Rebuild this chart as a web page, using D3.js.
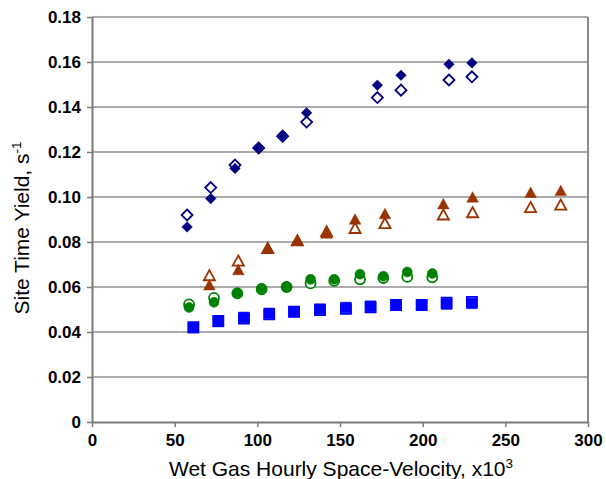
<!DOCTYPE html>
<html>
<head>
<meta charset="utf-8">
<script src="https://cdn.jsdelivr.net/npm/d3@7"></script>
<style>
  html, body { margin: 0; padding: 0; background: #fff; }
  svg { display: block; font-family: Arial, "Liberation Sans", sans-serif; }
</style>
</head>
<body>
<svg id="chart" width="606" height="479"></svg>
<script>
// Wet gas hourly space-velocity (x10^3) for each run
const xDiamond = [57.5, 71.8, 86.5, 100.8, 115.3, 129.8, 172.6, 186.9, 215.9, 229.8];
const yDiamondFilled = [0.0867, 0.0993, 0.1127, 0.1216, 0.1275, 0.1374, 0.1497, 0.1541, 0.1590, 0.1596];
const yDiamondOpen   = [0.0920, 0.1042, 0.1142, 0.1218, 0.1270, 0.1333, 0.1442, 0.1475, 0.1520, 0.1534];

const xTriangle = [71.0, 88.5, 106.3, 124.2, 141.9, 159.1, 177.2, 212.5, 230.2, 265.3, 283.5];
const yTriangleFilled = [0.0608, 0.0675, 0.0771, 0.0807, 0.0838, 0.0900, 0.0924, 0.0968, 0.0998, 0.1019, 0.1027];
const yTriangleOpen   = [0.0650, 0.0715, 0.0771, 0.0805, 0.0845, 0.0860, 0.0882, 0.0920, 0.0930, 0.0953, 0.0964];

const xCircle = [58.7, 73.8, 87.9, 102.6, 117.7, 132.2, 146.5, 162.1, 176.2, 190.7, 205.8];
const yCircleFilled = [0.0509, 0.0532, 0.0574, 0.0594, 0.0601, 0.0634, 0.0634, 0.0657, 0.0648, 0.0667, 0.0660];
const yCircleOpen   = [0.0523, 0.0552, 0.0572, 0.0590, 0.0600, 0.0616, 0.0627, 0.0634, 0.0640, 0.0645, 0.0643];

const xSquare = [61.3, 76.4, 91.9, 107.2, 122.2, 137.9, 153.6, 168.5, 183.9, 199.4, 214.5, 229.8];
const ySquareFilled = [0.0419, 0.0446, 0.0465, 0.0483, 0.0490, 0.0502, 0.0509, 0.0515, 0.0520, 0.0520, 0.0524, 0.0527];
const ySquareOpen   = [0.0421, 0.0449, 0.0460, 0.0478, 0.0490, 0.0497, 0.0503, 0.0510, 0.0520, 0.0520, 0.0530, 0.0534];

const xTicks = [0, 50, 100, 150, 200, 250, 300];
const yTicks = [0, 0.02, 0.04, 0.06, 0.08, 0.10, 0.12, 0.14, 0.16, 0.18];

const svg = d3.select("#chart");
const plot = { left: 92, right: 588, top: 17, bottom: 422 };

const x = d3.scaleLinear().domain([0, 300]).range([plot.left, plot.right]);
const y = d3.scaleLinear().domain([0, 0.18]).range([plot.bottom, plot.top]);

// horizontal gridlines
svg.append("g")
  .selectAll("line")
  .data(yTicks.filter(d => d > 0))
  .join("line")
  .attr("x1", plot.left).attr("x2", plot.right)
  .attr("y1", d => y(d)).attr("y2", d => y(d))
  .attr("stroke", "#8f8f8f").attr("stroke-width", 1.3);

// right border of the plot area
svg.append("line")
  .attr("x1", plot.right).attr("x2", plot.right)
  .attr("y1", plot.top).attr("y2", plot.bottom)
  .attr("stroke", "#8a8a8a").attr("stroke-width", 2);

// axes
const yAxis = d3.axisLeft(y).tickValues(yTicks)
  .tickFormat(d => d === 0 ? "0" : d3.format(".2f")(d))
  .tickSize(5).tickPadding(6).tickSizeOuter(0);
const xAxis = d3.axisBottom(x).tickValues(xTicks)
  .tickFormat(d3.format("d"))
  .tickSize(5).tickPadding(7).tickSizeOuter(0);

function styleAxis(g) {
  g.select(".domain").attr("stroke", "#7a7a7a").attr("stroke-width", 2);
  g.selectAll(".tick line").attr("stroke", "#7a7a7a").attr("stroke-width", 1.5);
  g.selectAll(".tick text")
    .attr("fill", "#000")
    .style("font-family", "Arial, 'Liberation Sans', sans-serif")
    .style("font-size", "17px")
    .style("font-weight", "bold");
}

svg.append("g").attr("transform", `translate(${plot.left},0)`).call(yAxis).call(styleAxis);
svg.append("g").attr("transform", `translate(0,${plot.bottom})`).call(xAxis).call(styleAxis);

// axis titles
const yTitle = svg.append("text")
  .attr("transform", "translate(28.5,228) rotate(-90)")
  .attr("text-anchor", "middle")
  .style("font-size", "21px").attr("fill", "#000");
yTitle.append("tspan").text("Site Time Yield, s");
yTitle.append("tspan").attr("dy", -8).style("font-size", "13.5px").text("-1");

const xTitle = svg.append("text")
  .attr("x", 341).attr("y", 476)
  .attr("text-anchor", "middle")
  .style("font-size", "21px").attr("fill", "#000");
xTitle.append("tspan").text("Wet Gas Hourly Space-Velocity, x10");
xTitle.append("tspan").attr("dy", -8).style("font-size", "13.5px").text("3");

// marker shapes, centred on the origin
const shapes = {
  diamond: r => `M0,${-r}L${r},0L0,${r}L${-r},0Z`,
  triangle: r => `M0,${-r * 1.05}L${r * 1.05},${r * 0.85}L${-r * 1.05},${r * 0.85}Z`,
  square: r => `M${-r},${-r}H${r}V${r}H${-r}Z`,
  circle: r => `M${r},0A${r},${r} 0 1,1 ${-r},0A${r},${r} 0 1,1 ${r},0Z`
};

function drawSeries(xs, ys, shape, size, color, filled) {
  const pts = xs.map((v, i) => ({ x: v, y: ys[i] }));
  svg.append("g")
    .selectAll("path")
    .data(pts)
    .join("path")
    .attr("transform", d => `translate(${x(d.x)},${y(d.y)})`)
    .attr("d", shapes[shape](size))
    .attr("fill", filled ? color : "#fff")
    .attr("stroke", color)
    .attr("stroke-width", filled ? 0.5 : 1.8);
}

// open markers underneath, filled markers on top
drawSeries(xSquare, ySquareOpen, "square", 5.0, "#0000ff", false);
drawSeries(xCircle, yCircleOpen, "circle", 5.0, "#008000", false);
drawSeries(xTriangle, yTriangleOpen, "triangle", 5.3, "#993300", false);
drawSeries(xDiamond, yDiamondOpen, "diamond", 5.5, "#000080", false);

drawSeries(xSquare, ySquareFilled, "square", 5.3, "#0000ff", true);
drawSeries(xCircle, yCircleFilled, "circle", 5.0, "#008000", true);
drawSeries(xTriangle, yTriangleFilled, "triangle", 5.5, "#993300", true);
drawSeries(xDiamond, yDiamondFilled, "diamond", 5.3, "#000080", true);
</script>
</body>
</html>
